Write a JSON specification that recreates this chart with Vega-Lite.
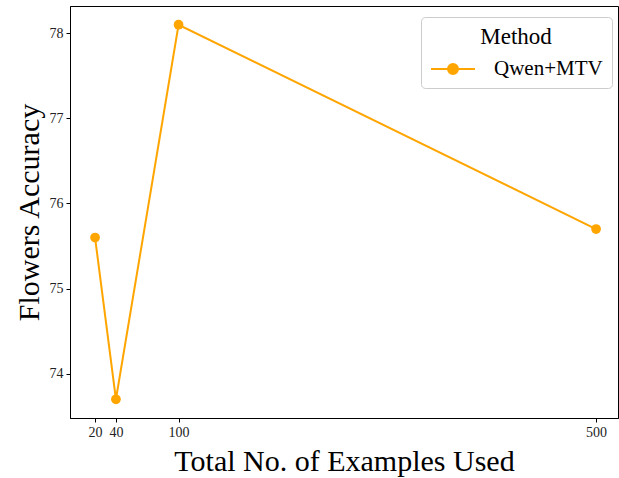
{
  "$schema": "https://vega.github.io/schema/vega-lite/v6.json",
  "description": "Flowers accuracy vs total number of examples used.",
  "autosize": {"type": "none"},
  "padding": {"left": 70, "top": 6, "right": 1, "bottom": 60},
  "width": 548,
  "height": 412,
  "data": {
    "values": [
      {"examples": 20, "accuracy": 75.6, "method": "Qwen+MTV"},
      {"examples": 40, "accuracy": 73.7, "method": "Qwen+MTV"},
      {"examples": 100, "accuracy": 78.1, "method": "Qwen+MTV"},
      {"examples": 500, "accuracy": 75.7, "method": "Qwen+MTV"}
    ]
  },
  "encoding": {
    "x": {
      "field": "examples",
      "type": "quantitative",
      "title": "Total No. of Examples Used",
      "scale": {"domain": [-4, 521], "nice": false, "zero": false},
      "axis": {"values": [20, 40, 100, 500], "titlePadding": 7}
    },
    "y": {
      "field": "accuracy",
      "type": "quantitative",
      "title": "Flowers Accuracy",
      "scale": {"domain": [73.48, 78.32], "nice": false, "zero": false},
      "axis": {"values": [74, 75, 76, 77, 78], "titlePadding": 5}
    },
    "color": {
      "field": "method",
      "type": "nominal",
      "scale": {"domain": ["Qwen+MTV"], "range": ["#FFA500"]}
    }
  },
  "layer": [
    {
      "mark": {"type": "line", "strokeWidth": 2},
      "encoding": {
        "color": {
          "field": "method",
          "type": "nominal",
          "title": "Method",
          "scale": {"domain": ["Qwen+MTV"], "range": ["#FFA500"]},
          "legend": {
            "orient": "none",
            "legendX": 351,
            "legendY": 11,
            "symbolType": "M-1,0L3.4,0M1.7,0A0.5,0.5 0 1,1 0.7,0A0.5,0.5 0 1,1 1.7,0Z",
            "symbolSize": 400,
            "symbolStrokeWidth": 2,
            "symbolStrokeColor": "#FFA500",
            "symbolFillColor": "#FFA500",
            "labelOffset": 42
          }
        }
      }
    },
    {
      "mark": {"type": "point", "filled": true, "size": 95, "opacity": 1},
      "encoding": {
        "color": {
          "field": "method",
          "type": "nominal",
          "scale": {"domain": ["Qwen+MTV"], "range": ["#FFA500"]},
          "legend": null
        }
      }
    }
  ],
  "config": {
    "font": "Liberation Serif",
    "view": {"stroke": "#000000", "strokeWidth": 1},
    "axis": {
      "grid": false,
      "domainColor": "#000000",
      "tickColor": "#000000",
      "tickSize": 4,
      "labelFont": "Liberation Serif",
      "labelFontSize": 14,
      "labelColor": "#222222",
      "labelPadding": 3,
      "titleFont": "Liberation Serif",
      "titleFontSize": 30,
      "titleFontWeight": "normal",
      "titleColor": "#000000"
    },
    "legend": {
      "titleFont": "Liberation Serif",
      "titleFontSize": 23,
      "titleFontWeight": "normal",
      "titleColor": "#000000",
      "titleAnchor": "middle",
      "titlePadding": 9,
      "labelFont": "Liberation Serif",
      "labelFontSize": 21,
      "labelColor": "#000000",
      "padding": 9,
      "strokeColor": "#cccccc",
      "fillColor": "#ffffff",
      "cornerRadius": 4
    }
  }
}
